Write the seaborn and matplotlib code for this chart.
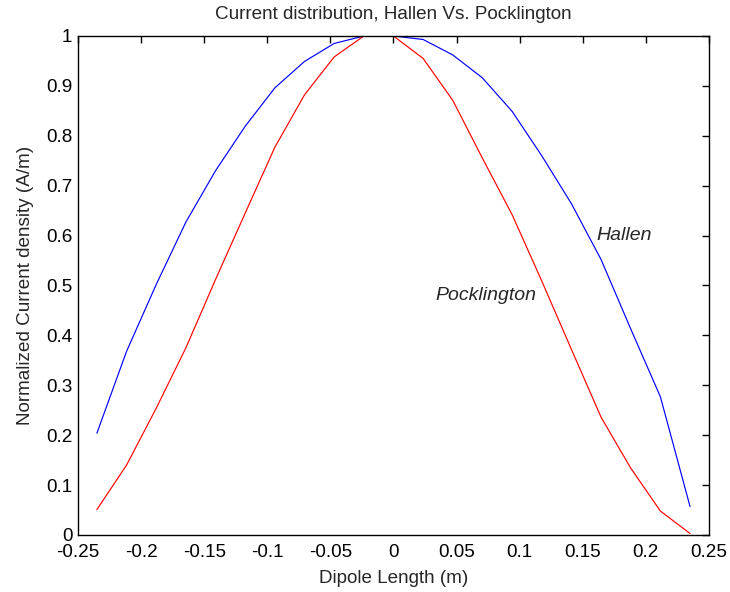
import numpy as np
import pandas as pd
import matplotlib
matplotlib.use("Agg")
import matplotlib.pyplot as plt
import seaborn as sns
from matplotlib.ticker import FuncFormatter, MultipleLocator

# Data
dipole_x = [-0.2350, -0.2115, -0.1880, -0.1645, -0.1410, -0.1175, -0.0940, -0.0705,
            -0.0470, -0.0235, 0.0000, 0.0235, 0.0470, 0.0705, 0.0940, 0.1175,
            0.1410, 0.1645, 0.1880, 0.2115, 0.2350]
hallen = [0.204, 0.368, 0.502, 0.627, 0.730, 0.819, 0.896, 0.949,
          0.985, 1.000, 1.000, 0.993, 0.962, 0.916, 0.849, 0.760,
          0.664, 0.552, 0.413, 0.277, 0.057]
pocklington = [0.051, 0.140, 0.254, 0.375, 0.512, 0.645, 0.777, 0.882,
               0.958, 1.000, 1.000, 0.955, 0.871, 0.755, 0.642, 0.509,
               0.372, 0.236, 0.134, 0.048, 0.003]

title = "Current distribution, Hallen Vs. Pocklington"
xlabel = "Dipole Length (m)"
ylabel = "Normalized Current density (A/m)"

sns.set_theme(style="white")
plt.rcParams['font.family'] = ['Liberation Sans', 'DejaVu Sans']

df = pd.DataFrame({
    "x": dipole_x * 2,
    "y": hallen + pocklington,
    "method": ["Hallen"] * len(dipole_x) + ["Pocklington"] * len(dipole_x),
})

fig = plt.figure(figsize=(7.3, 5.92), dpi=100)
ax = fig.add_axes([0.1068, 0.0963, 0.8644, 0.8429])

sns.lineplot(data=df, x="x", y="y", hue="method",
             palette={"Hallen": "#0000ff", "Pocklington": "#ff0000"},
             sort=False, legend=False, linewidth=0.85, ax=ax)

ax.set_xlim(-0.25, 0.25)
ax.set_ylim(0, 1)
ax.xaxis.set_major_locator(MultipleLocator(0.05))
ax.yaxis.set_major_locator(MultipleLocator(0.1))
fmt = FuncFormatter(lambda v, p: ("%g" % round(v, 4)))
ax.xaxis.set_major_formatter(fmt)
ax.yaxis.set_major_formatter(fmt)

for s in ax.spines.values():
    s.set_visible(True)
    s.set_color("black")
    s.set_linewidth(1.0)

fs = 13.6
ax.tick_params(direction="in", top=True, right=True, length=5, width=1,
               labelsize=fs, colors="black", pad=4)
ax.tick_params(axis="x", pad=6.5)

ax.set_title(title, fontsize=13.6, pad=12)
ax.set_xlabel(xlabel, fontsize=fs, labelpad=6.5)
ax.set_ylabel(ylabel, fontsize=fs, labelpad=9)

ax.text(0.161, 0.6, "Hallen", fontstyle="italic", fontsize=14, va="center", ha="left")
ax.text(0.033, 0.48, "Pocklington", fontstyle="italic", fontsize=14, va="center", ha="left")

fig.savefig("out.png", dpi=100, facecolor="white")
